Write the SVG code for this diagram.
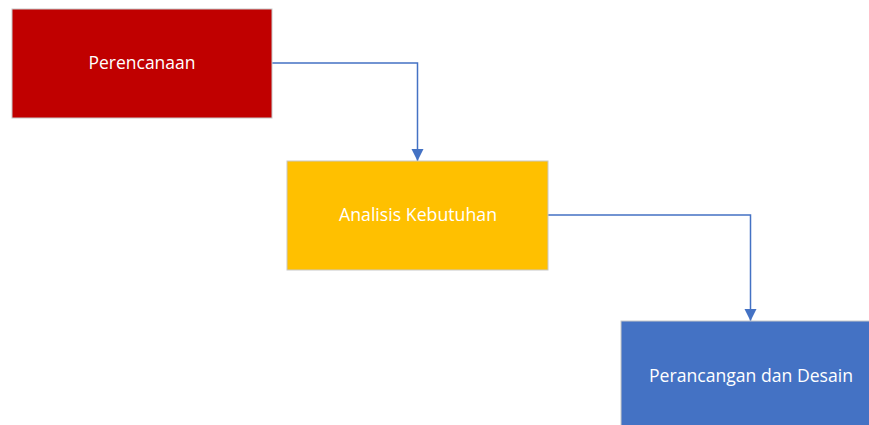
<svg xmlns="http://www.w3.org/2000/svg" width="869" height="425" viewBox="0 0 869 425">
  <style>
    .box { stroke: #c8c8c8; stroke-width: 1; }
    .label { font-family: "Open Sans", "Noto Sans", sans-serif; font-size: 18px; fill: #ffffff; text-anchor: middle; dominant-baseline: central; }
    .link { fill: none; stroke: #4472c4; stroke-width: 1.5; }
  </style>
  <defs>
    <marker id="arrow" viewBox="0 0 10 10" refX="10" refY="5" markerWidth="12" markerHeight="14" markerUnits="userSpaceOnUse" orient="auto">
      <path d="M0,0 L10,5 L0,10 Z" fill="#4472c4"/>
    </marker>
  </defs>
  <rect width="869" height="425" fill="#ffffff"/>

  <g id="connectors">
    <path class="link" d="M272,63 H417.5 V161" marker-end="url(#arrow)"/>
    <path class="link" d="M548,215 H750.5 V321" marker-end="url(#arrow)"/>
  </g>

  <g id="node-perencanaan">
    <rect class="box" x="12" y="9" width="260" height="109" fill="#c00000"/>
    <text class="label" x="142" y="62" textLength="107" lengthAdjust="spacingAndGlyphs">Perencanaan</text>
  </g>

  <g id="node-analisis">
    <rect class="box" x="287" y="161" width="261" height="109" fill="#ffc000"/>
    <text class="label" x="418" y="214" textLength="158" lengthAdjust="spacingAndGlyphs">Analisis Kebutuhan</text>
  </g>

  <g id="node-perancangan">
    <rect class="box" x="621" y="321" width="261" height="109" fill="#4472c4"/>
    <text class="label" x="751" y="375" textLength="204" lengthAdjust="spacingAndGlyphs">Perancangan dan Desain</text>
  </g>
</svg>
